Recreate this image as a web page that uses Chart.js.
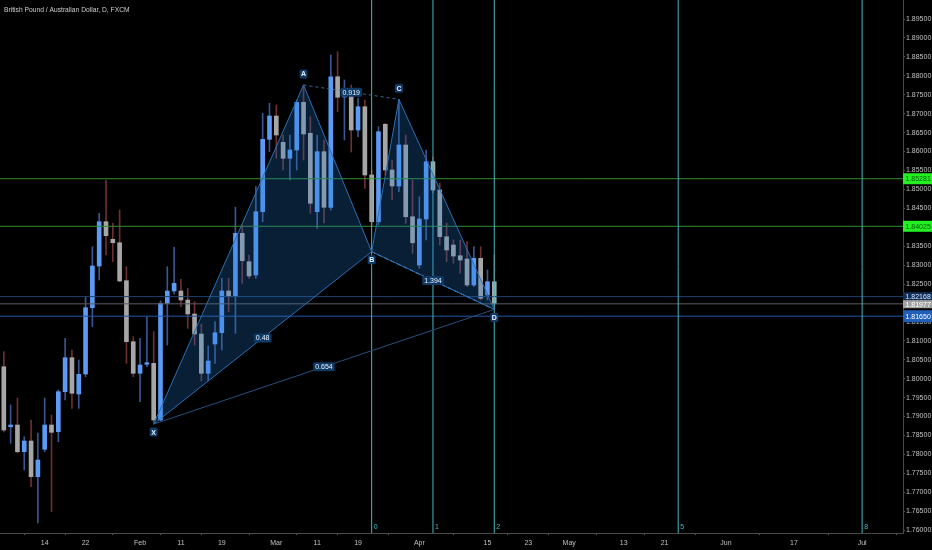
<!DOCTYPE html>
<html><head><meta charset="utf-8">
<script src="https://cdn.jsdelivr.net/npm/chart.js@4.4.1/dist/chart.umd.min.js"></script>
<style>html,body{margin:0;padding:0;background:#000;overflow:hidden}#wrap{width:932px;height:550px;position:relative}</style>
</head><body><div id="wrap"><canvas id="c" width="932" height="550"></canvas></div>
<script>
// ---------------- DATA ----------------
const chartTitle = 'British Pound / Australian Dollar, D, FXCM';
const firstBarIndex = -6; // bar index of first candle (index 0 = 14 Jan)
const opens  = [1.80316,1.78731,1.78776,1.78071,1.78354,1.77411,1.78135,1.78776,1.78599,1.79656,1.80554,1.79595,1.80123,1.81875,1.82976,1.84146,1.83681,1.83591,1.82588,1.80977,1.80142,1.80380,1.80406,1.78908,1.81991,1.82316,1.82316,1.82078,1.81708,1.81180,1.80142,1.80916,1.81214,1.82316,1.82165,1.83840,1.83090,1.82738,1.84410,1.86322,1.86938,1.86243,1.85821,1.86040,1.87300,1.86481,1.84410,1.85995,1.84526,1.87976,1.87440,1.87572,1.86568,1.87184,1.85380,1.84146,1.86719,1.85512,1.85089,1.86172,1.84278,1.83002,1.84217,1.85731,1.84983,1.83750,1.83531,1.83248,1.83161,1.82474,1.83179,1.82210,1.82561];
const highs  = [1.80712,1.79305,1.79489,1.78467,1.78908,1.78565,1.79489,1.79040,1.79701,1.81066,1.80757,1.80493,1.82165,1.83486,1.84368,1.85248,1.84104,1.84455,1.82958,1.81109,1.81066,1.81637,1.81241,1.82052,1.82958,1.83470,1.82625,1.82387,1.82033,1.81444,1.80863,1.81505,1.82651,1.82651,1.84526,1.84059,1.83267,1.85071,1.87009,1.87273,1.87228,1.86436,1.86436,1.87361,1.87757,1.86919,1.86436,1.86304,1.88549,1.88636,1.87889,1.87757,1.87413,1.87361,1.85512,1.86655,1.86745,1.85776,1.87379,1.86436,1.85248,1.84806,1.86040,1.85855,1.85168,1.84112,1.83663,1.83663,1.83618,1.83486,1.83486,1.82870,1.83267];
const lows   = [1.78591,1.78293,1.78037,1.77588,1.77147,1.76188,1.78071,1.76486,1.78335,1.79437,1.79217,1.79217,1.80052,1.81373,1.82606,1.83267,1.83090,1.82561,1.80406,1.80052,1.79392,1.80316,1.78830,1.78890,1.80889,1.82236,1.81901,1.81330,1.80889,1.79946,1.79946,1.80406,1.80757,1.81769,1.81198,1.82519,1.82651,1.82651,1.84146,1.85995,1.85821,1.85512,1.85248,1.85512,1.85776,1.84368,1.83972,1.84112,1.84455,1.87052,1.86304,1.85987,1.86391,1.85028,1.84014,1.84059,1.85380,1.84719,1.84938,1.84104,1.83311,1.82915,1.83663,1.84904,1.83531,1.83090,1.83047,1.82783,1.82429,1.82429,1.82078,1.82078,1.81901];
const closes = [1.78644,1.78776,1.78071,1.78354,1.77411,1.77852,1.78776,1.78583,1.79656,1.80554,1.79614,1.80115,1.81875,1.82976,1.84146,1.83776,1.83591,1.82580,1.80977,1.80142,1.80361,1.80422,1.78908,1.81991,1.82316,1.82519,1.82078,1.81708,1.81180,1.80142,1.80467,1.81214,1.82316,1.82165,1.83840,1.83116,1.82712,1.84410,1.86322,1.86938,1.86436,1.85821,1.86040,1.87300,1.86463,1.84632,1.85995,1.84526,1.87976,1.87432,1.87572,1.86568,1.87184,1.85380,1.84146,1.86523,1.85512,1.85089,1.86172,1.84278,1.83591,1.84217,1.85731,1.84983,1.83750,1.83399,1.83240,1.83134,1.82474,1.83179,1.82123,1.82561,1.81977];

const dateTickIndex  = [0,6,14,20,26,34,40,46,55,65,71,77,85,91,100,110,120];
const dateTickLabels = ['14','22','Feb','11','19','Mar','11','19','Apr','15','23','May','13','21','Jun','17','Jul'];
const priceTicks = [1.760,1.765,1.770,1.775,1.780,1.785,1.790,1.795,1.800,1.805,1.810,1.815,1.820,1.825,1.830,1.835,1.840,1.845,1.850,1.855,1.860,1.865,1.870,1.875,1.880,1.885,1.890,1.895];

const patternNames = ['X','A','B','C','D'];
const patternIndex = [16,38,48,52,66];
const patternPrice = [1.78800,1.87757,1.83354,1.87379,1.81830];
const ratioLabels  = ['0.48','0.919','1.394','0.654']; // XB, AC, BD, XD

const fibZoneIndex  = [48,57,66,93,120];
const fibZoneLabels = ['0','1','2','5','8'];

const levelPrices = [1.85281,1.84025,1.82168,1.81977,1.81650];

// ---------------- STYLE ----------------
const X_MIN = -6.56, X_MAX = 126.0, Y_MIN = 1.75924, Y_MAX = 1.90002;
const FONT = '"Liberation Sans",Arial,sans-serif';
const BULL = '#5b9bf6', BEAR = '#a6a6a6', BULL_WICK = '#3a5590', BEAR_WICK = '#6e2f30';
const levelLine = ['#2f8f2f','#2f8f2f','#1f3f70','#5c5c5c','#2657a8'];
const levelBoxBg = ['#22f022','#22f022','#10305a','#a3a3a3','#1f5fb8'];
const levelBoxFg = ['#0b5a0b','#0b5a0b','#d8e6ff','#ffffff','#ffffff'];
const levelBoxH = [11,11,8,8,12];
const FIB = '#45b8c4';

const barX = opens.map((_, k) => firstBarIndex + k);
const pt = (k) => ({x: patternIndex[k], y: patternPrice[k]});

const datasets = [];
datasets.push({type:'line', data:[pt(0),pt(1),pt(2),pt(0)], fill:'shape', backgroundColor:'rgba(30,120,210,0.26)', borderColor:'#2a6fb3', borderWidth:1, pointRadius:0, tension:0, order:1});
datasets.push({type:'line', data:[pt(2),pt(3),pt(4),pt(2)], fill:'shape', backgroundColor:'rgba(30,120,210,0.26)', borderColor:'#2a6fb3', borderWidth:1, pointRadius:0, tension:0, order:1});
datasets.push({type:'line', data:[pt(1),pt(3)], borderColor:'#3a6a96', borderWidth:1, borderDash:[3,3], pointRadius:0, fill:false, order:1});
datasets.push({type:'line', data:[pt(0),pt(4)], borderColor:'#24507e', borderWidth:1, pointRadius:0, fill:false, order:1});
datasets.push({type:'line', data:[pt(2),pt(4)], borderColor:'#6fb0ea', borderWidth:1, borderDash:[4,3], pointRadius:0, fill:false, order:1});
fibZoneIndex.forEach(v => datasets.push({type:'line', data:[{x:v,y:Y_MIN-1},{x:v,y:Y_MAX+1}], borderColor:FIB, borderWidth:1, pointRadius:0, fill:false, order:2}));
levelPrices.forEach((p, k) => datasets.push({type:'line', data:[{x:X_MIN-5,y:p},{x:X_MAX+5,y:p}], borderColor:levelLine[k], borderWidth:1, pointRadius:0, fill:false, order:3}));
datasets.push({type:'bar', data: barX.map((x,k)=>({x, y:[lows[k], highs[k]]})), backgroundColor: barX.map((_,k)=> closes[k]>=opens[k]?BULL_WICK:BEAR_WICK), barThickness:1, grouped:false, order:11});
datasets.push({type:'bar', data: barX.map((x,k)=>({x, y:[opens[k], closes[k]]})), backgroundColor: barX.map((_,k)=> closes[k]>=opens[k]?BULL:BEAR), barThickness:4, minBarLength:1, grouped:false, order:10});

function roundRect(ctx, x, y, w, h, r){ctx.beginPath();ctx.moveTo(x+r,y);ctx.lineTo(x+w-r,y);ctx.quadraticCurveTo(x+w,y,x+w,y+r);ctx.lineTo(x+w,y+h-r);ctx.quadraticCurveTo(x+w,y+h,x+w-r,y+h);ctx.lineTo(x+r,y+h);ctx.quadraticCurveTo(x,y+h,x,y+h-r);ctx.lineTo(x,y+r);ctx.quadraticCurveTo(x,y,x+r,y);ctx.closePath();}

const overlay = {
  id:'overlay',
  beforeDraw(chart){const c=chart.ctx;c.save();c.fillStyle='#000';c.fillRect(0,0,chart.width,chart.height);c.restore();},
  afterDraw(chart){
    const c = chart.ctx, xs = chart.scales.x, ys = chart.scales.y;
    c.save();
    c.fillStyle='#cfcfcf'; c.font='7.8px '+FONT; c.textBaseline='middle'; c.textAlign='left';
    c.save(); c.translate(4,10); c.scale(0.86,1); c.fillText(chartTitle, 0, 0); c.restore();
    c.fillStyle=FIB; c.font='7px '+FONT;
    fibZoneIndex.forEach((v,k)=>c.fillText(fibZoneLabels[k], xs.getPixelForValue(v)+2, 527));
    const mids=[[0,2],[1,3],[2,4],[0,4]];
    c.font='7px '+FONT; c.textAlign='center';
    mids.forEach((m,k)=>{
      const x=(xs.getPixelForValue(patternIndex[m[0]])+xs.getPixelForValue(patternIndex[m[1]]))/2;
      const y=(ys.getPixelForValue(patternPrice[m[0]])+ys.getPixelForValue(patternPrice[m[1]]))/2;
      const w=c.measureText(ratioLabels[k]).width+4;
      c.fillStyle='#103a66'; roundRect(c,x-w/2,y-4.5,w,9,1.5); c.fill();
      c.fillStyle='#e8f3ff'; c.fillText(ratioLabels[k], x, y+0.5);
    });
    c.font='bold 7px '+FONT;
    patternNames.forEach((n,k)=>{
      const x=xs.getPixelForValue(patternIndex[k]), py=ys.getPixelForValue(patternPrice[k]);
      const up = (k===1||k===3);
      const y = up ? py-11 : py+8;
      c.fillStyle='#103a66'; roundRect(c,x-4,y-4.5,8,9,1.5); c.fill();
      c.fillStyle='#e8f3ff'; c.fillText(n, x, y+0.5);
    });
    c.textAlign='left'; c.font='7px '+FONT;
    const tops = levelPrices.map((p,k)=>ys.getPixelForValue(p)-levelBoxH[k]/2);
    for (let k=1;k<tops.length;k++){
      const prevBottom = tops[k-1]+levelBoxH[k-1];
      if (tops[k] < prevBottom){ const d=(prevBottom-tops[k])/2; tops[k-1]-=d; tops[k]+=d; }
    }
    levelPrices.forEach((p,k)=>{
      const t=tops[k], h=levelBoxH[k];
      c.fillStyle=levelBoxBg[k]; c.fillRect(903,t,29,h);
      c.fillStyle=levelBoxFg[k]; c.fillText(p.toFixed(5), 905.5, ys.getPixelForValue(p)+0.5 + (k===3? (t+h/2-ys.getPixelForValue(p)) : (k===2 ? (t+h/2-ys.getPixelForValue(p)) : 0)));
    });
    c.restore();
  }
};

new Chart(document.getElementById('c'), {
  type:'bar',
  data:{datasets},
  options:{
    responsive:false, animation:false, devicePixelRatio:1,
    layout:{padding:0},
    plugins:{legend:{display:false}, tooltip:{enabled:false}, title:{display:false}},
    scales:{
      x:{type:'linear', min:X_MIN, max:X_MAX, offset:false,
         afterFit:(s)=>{s.height=17; s.paddingLeft=0; s.paddingRight=0;},
         afterBuildTicks:(s)=>{s.ticks=dateTickIndex.map(v=>({value:v}));},
         grid:{display:true, drawOnChartArea:false, tickLength:2, color:'#555'},
         border:{display:true, color:'#4a4a4a'},
         ticks:{autoSkip:false, maxRotation:0, padding:4, color:'#c0c0c0', font:{size:7, family:FONT}, callback:(v,i)=>dateTickLabels[i]}},
      y:{type:'linear', position:'right', min:Y_MIN, max:Y_MAX,
         afterFit:(s)=>{s.width=29; s.paddingTop=0; s.paddingBottom=0;},
         afterBuildTicks:(s)=>{s.ticks=priceTicks.map(v=>({value:v}));},
         grid:{display:true, drawOnChartArea:false, tickLength:2, color:'#555'},
         border:{display:true, color:'#4a4a4a'},
         ticks:{autoSkip:false, padding:1, color:'#c0c0c0', font:{size:7, family:FONT}, callback:(v)=>Number(v).toFixed(5)}}
    }
  },
  plugins:[overlay]
});
</script></body></html>
